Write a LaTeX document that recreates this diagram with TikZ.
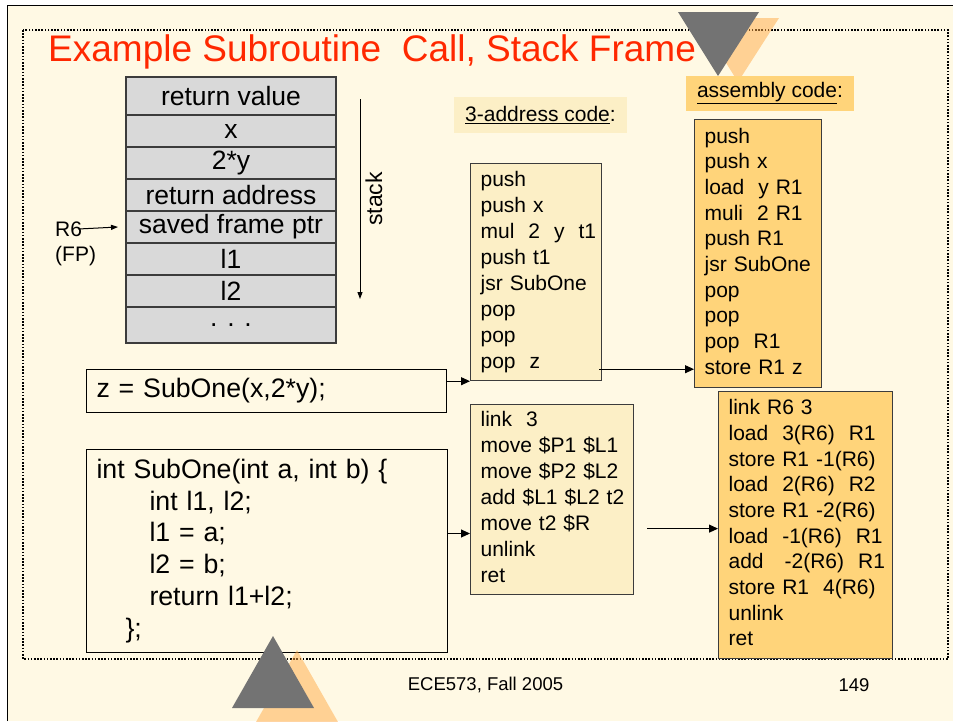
\documentclass[tikz,border=0pt]{standalone}
\usepackage{fontspec}
\setmainfont{Liberation Sans}
\usetikzlibrary{positioning,arrows.meta}
\definecolor{cream}{RGB}{255,249,228}
\definecolor{lightcode}{RGB}{252,239,198}
\definecolor{asmorange}{RGB}{255,212,122}
\definecolor{titlered}{RGB}{255,40,0}
\definecolor{stackgrey}{RGB}{217,217,217}
\definecolor{edgegrey}{RGB}{60,60,60}
\definecolor{trigrey}{RGB}{115,115,115}
\definecolor{shadoworange}{RGB}{255,170,70}
\newcommand\codelines[1]{\begin{tabular}{@{}l@{}}#1\end{tabular}}

\tikzset{
  frame/.style={line width=1.6pt, dash pattern=on 1.6pt off 1.6pt},
  stackcell/.style={draw=edgegrey, line width=2pt, fill=stackgrey, minimum width=210pt,
    inner sep=0pt, font=\fontsize{26.5}{30}\selectfont},
  codebox/.style={draw=edgegrey, line width=1.2pt, fill=lightcode, anchor=north west,
    align=left, inner xsep=10pt, font=\fontsize{21}{26}\selectfont},
  asmbox/.style={codebox, fill=asmorange, font=\fontsize{21}{25.7}\selectfont},
  srcbox/.style={draw=black, line width=1pt, fill=cream, anchor=north west, align=left,
    inner xsep=10pt, font=\fontsize{26.7}{31.9}\selectfont},
  headbox/.style={fill=#1, inner sep=0pt, font=\fontsize{21}{25}\selectfont},
  lbl/.style={inner sep=0pt, font=\fontsize{21}{25}\selectfont},
  codearrow/.style={line width=1pt, -{Triangle[length=9pt,width=8pt]}},
  smallarrow/.style={line width=1pt, -{Triangle[length=7pt,width=5pt]}},
  shade/.style={fill=shadoworange, fill opacity=0.5}
}

\begin{document}
\begin{tikzpicture}[x=1pt,y=-1pt]
    \useasboundingbox (0,0) rectangle (953,721);
    % page
    \fill[white] (0,0) rectangle (953,721);
    \fill[cream] (7,5) rectangle (953,721);
    \draw[line width=1pt] (7,721) -- (7,5) -- (953,5);
    \draw[frame] (23,30) rectangle (948,659);
    % title
    \node[anchor=base west, inner sep=0pt, text=titlered, font=\fontsize{37}{44}\selectfont]
      (title) at (48,61) {Example Subroutine\ \ Call, Stack Frame};
    % top pointer
    \fill[shade] (698,18) -- (779,18) -- (738,82) -- cycle;
    \fill[trigrey] (678,12) -- (759,12) -- (718,76) -- cycle;
    % stack frame
    \foreach \lbl/\top/\bot [count=\i] in {return value/77/115, x/115/147, 2*y/147/179,
        return address/179/211, saved frame ptr/211/243, l1/243/275, l2/275/307, . . ./307/343}{
      \pgfmathsetmacro\h{\bot-\top}
      \node[stackcell, minimum height=\h pt] (cell\i) at (231,{(\top+\bot)/2}) {\lbl};
    };
    \node[lbl, anchor=west] (r6) at (55,229) {R6};
    \node[lbl, anchor=west] (fp) at (55,256) {(FP)};
    \draw[smallarrow] ([xshift=-4pt]r6.east) -- ([xshift=-7pt]cell5.west);
    \coordinate (stacktop) at (360,99);
    \coordinate (stackbot) at (360,299);
    \draw[smallarrow] (stacktop) -- (stackbot);
    \node[lbl, rotate=90, font=\fontsize{23}{26}\selectfont] (stacklbl) at (374,199) {stack};
    % headings
    \node[headbox=lightcode, minimum width=173pt, minimum height=36pt] (tachead) at (540.5,115)
      {\underline{3-address code}:};
    \node[headbox=asmorange, minimum width=168pt, minimum height=35pt] (asmhead) at (770,93.5)
      {\underline{assembly code}:};
    % source code
    \node[srcbox, text width=340pt, minimum height=43pt] (zbox) at (86,369) {z = SubOne(x,2*y);};
    \node[srcbox, text width=341pt, minimum height=203pt] (func) at (86,449)
      {int SubOne(int a, int b) \{\\
       \hspace*{53pt}int l1, l2;\\
       \hspace*{53pt}l1 = a;\\
       \hspace*{53pt}l2 = b;\\
       \hspace*{53pt}return l1+l2;\\
       \hspace*{29pt}\};};
    % 3-address code
    \node[codebox, text width=111pt, minimum height=217pt] (tac1) at (470,163)
      {\codelines{push\\push x\\mul\ \ 2\ \ y\ \ t1\\push t1\\jsr SubOne\\pop\\pop\\pop\ \ z}};
    \node[codebox, text width=143pt, minimum height=190pt] (tac2) at (470,404)
      {\codelines{link\ \ 3\\move \$P1 \$L1\\move \$P2 \$L2\\add \$L1 \$L2 t2\\move t2 \$R\\unlink\\ret}};
    % assembly code
    \node[asmbox, text width=107pt, minimum height=268pt] (asm1) at (694,119)
      {\codelines{push\\push x\\load\ \ y R1\\muli\ \ 2 R1\\push R1\\jsr SubOne\\pop\\pop\\pop\ \ R1\\store R1 z}};
    \node[asmbox, text width=154pt, minimum height=267pt] (asm2) at (718,391)
      {\codelines{link R6 3\\load\ \ 3(R6)\ \ R1\\store R1 -1(R6)\\load\ \ 2(R6)\ \ R2\\store R1 -2(R6)\\
       load\ \ -1(R6)\ \ R1\\add\ \ \ -2(R6)\ \ R1\\store R1\ \ 4(R6)\\unlink\\ret}};
    % arrows
    \draw[codearrow] (zbox.east |- tac1.south) -- (tac1.south west);
    \draw[codearrow] ([shift={(-3,-12)}]tac1.south east) coordinate (tout)
      -- (tout -| asm1.west);
    \draw[codearrow] ([yshift=17.5pt]func.east) coordinate (fout) -- (fout -| tac2.west);
    \draw[codearrow] ([shift={(13,29)}]tac2.east) coordinate (lout) -- (lout -| asm2.west);
    % bottom pointer
    \fill[shade] (297,650) -- (338,722) -- (256,722) -- cycle;
    \fill[trigrey] (273,636) -- (314,708) -- (232,708) -- cycle;
    % footer
    \node[lbl, font=\fontsize{18.5}{22}\selectfont] (course) at (485.5,685) {ECE573, Fall 2005};
    \node[lbl, font=\fontsize{18.5}{22}\selectfont] (page) at (854,685) {149};
\end{tikzpicture}
\end{document}
